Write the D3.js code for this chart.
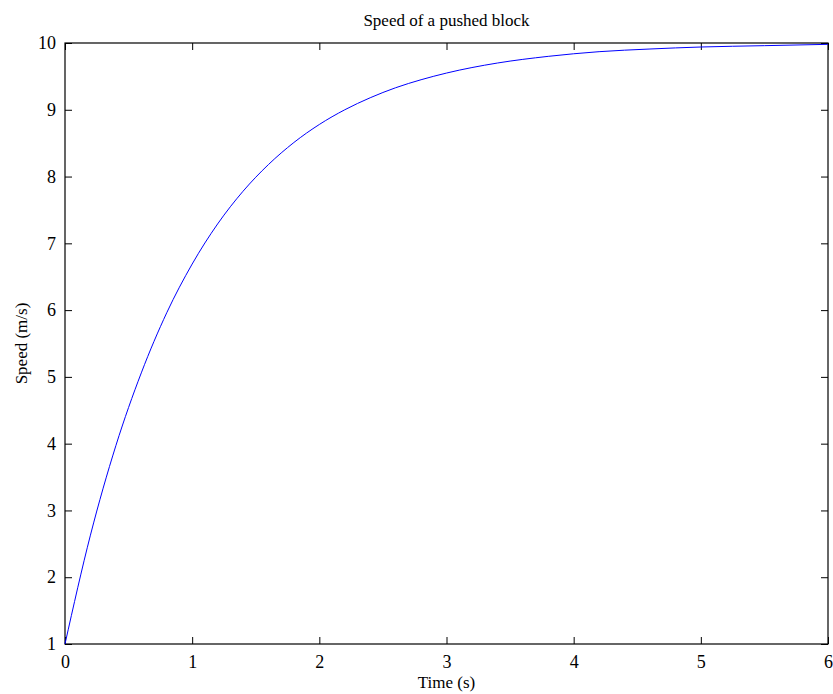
<!DOCTYPE html>
<html>
<head>
<meta charset="utf-8">
<script src="https://cdn.jsdelivr.net/npm/d3@7"></script>
<style>
  body { margin: 0; background: #fff; }
  text { font-family: "Liberation Serif", "Times New Roman", serif; fill: #000; }
</style>
</head>
<body>
<svg id="chart" width="833" height="694"></svg>
<script>
// values
const times  = [0, 0.2, 0.4, 0.6, 0.8, 1.0, 1.2, 1.4, 1.6, 1.8, 2.0, 2.2, 2.4, 2.6, 2.8, 3.0, 3.4, 3.8, 4.2, 4.6, 5.0, 5.5, 6.0];
const speeds = [1.0, 2.63, 3.97, 5.06, 5.96, 6.69, 7.29, 7.78, 8.18, 8.51, 8.78, 9.00, 9.18, 9.33, 9.45, 9.55, 9.70, 9.80, 9.87, 9.91, 9.94, 9.96, 9.98];
const xTicks = [0, 1, 2, 3, 4, 5, 6];
const yTicks = [1, 2, 3, 4, 5, 6, 7, 8, 9, 10];

const margin = {top: 43, right: 5, bottom: 50, left: 65};
const width = 833 - margin.left - margin.right,
      height = 694 - margin.top - margin.bottom;

const svg = d3.select("#chart");
const g = svg.append("g").attr("transform", "translate(" + margin.left + "," + margin.top + ")");

const x = d3.scaleLinear().domain([0, 6]).range([0, width]);
const y = d3.scaleLinear().domain([1, 10]).range([height, 0]);

const tickLen = 7;
const fmt = d3.format("d");

// bottom axis with labels, ticks pointing in
g.append("g")
  .attr("transform", "translate(0," + height + ")")
  .call(d3.axisBottom(x).tickValues(xTicks).tickFormat(fmt).tickSizeInner(-tickLen).tickSizeOuter(0).tickPadding(11))
  .call(a => a.select(".domain").remove());
// top axis, ticks only
g.append("g")
  .call(d3.axisTop(x).tickValues(xTicks).tickSizeInner(-tickLen).tickSizeOuter(0).tickFormat(""))
  .call(a => a.select(".domain").remove());
// left axis
g.append("g")
  .call(d3.axisLeft(y).tickValues(yTicks).tickFormat(fmt).tickSizeInner(-tickLen).tickSizeOuter(0).tickPadding(9))
  .call(a => a.select(".domain").remove());
// right axis, ticks only
g.append("g")
  .attr("transform", "translate(" + width + ",0)")
  .call(d3.axisRight(y).tickValues(yTicks).tickSizeInner(-tickLen).tickSizeOuter(0).tickFormat(""))
  .call(a => a.select(".domain").remove());

g.selectAll(".tick line").attr("stroke", "#000");
g.selectAll(".tick text").style("font-size", "18px").style("font-family", "Liberation Serif, serif");

// box
g.append("rect")
  .attr("x", 0).attr("y", 0)
  .attr("width", width).attr("height", height)
  .attr("fill", "none").attr("stroke", "#000").attr("stroke-width", 1.2);

// curve
const line = d3.line()
  .x((d, i) => x(times[i]))
  .y(d => y(d))
  .curve(d3.curveMonotoneX);

g.append("path")
  .datum(speeds)
  .attr("fill", "none")
  .attr("stroke", "#0000ff")
  .attr("stroke-width", 1)
  .attr("d", line);

// title and labels
svg.append("text")
  .attr("x", margin.left + width / 2).attr("y", 26)
  .attr("text-anchor", "middle")
  .style("font-size", "17px")
  .text("Speed of a pushed block");

svg.append("text")
  .attr("x", margin.left + width / 2).attr("y", 688)
  .attr("text-anchor", "middle")
  .style("font-size", "17px")
  .text("Time (s)");

svg.append("text")
  .attr("transform", "translate(27," + (margin.top + height / 2) + ") rotate(-90)")
  .attr("text-anchor", "middle")
  .style("font-size", "17px")
  .text("Speed (m/s)");
</script>
</body>
</html>
